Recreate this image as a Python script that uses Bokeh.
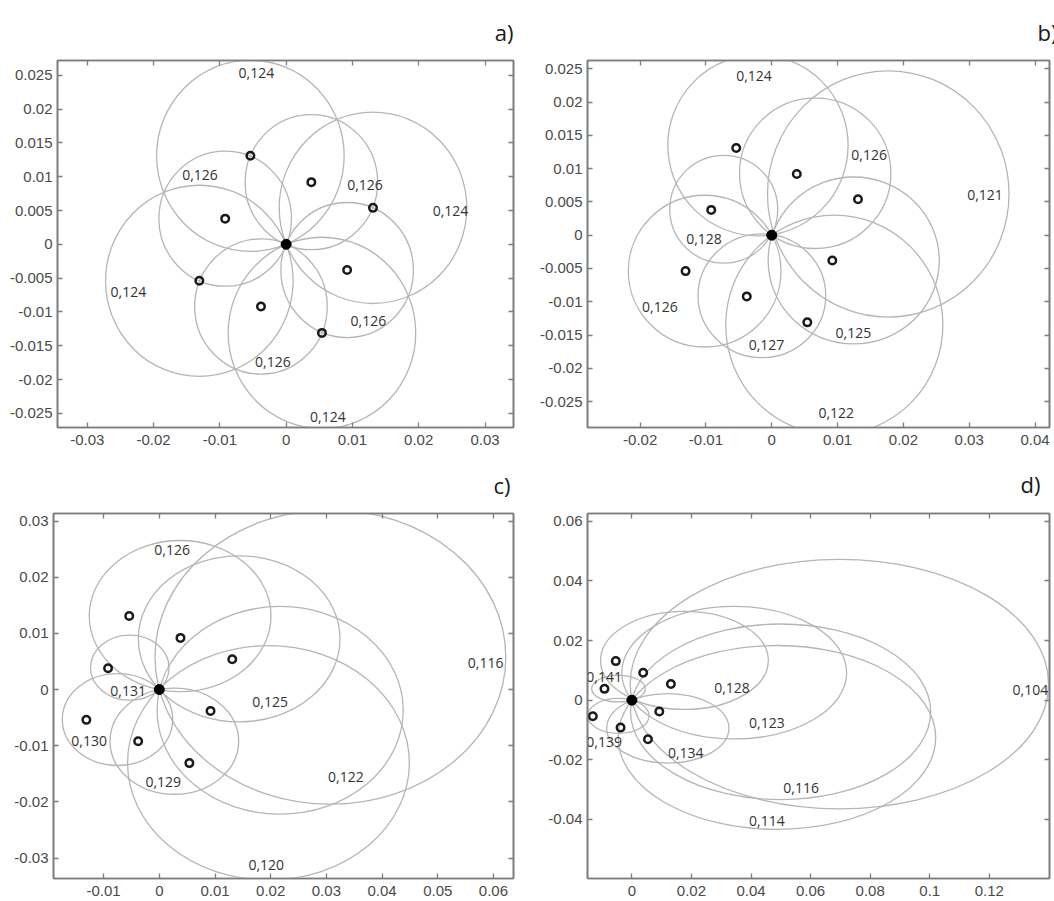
from bokeh.plotting import figure
from bokeh.models import FixedTicker, LinearAxis, Title, Range1d
from bokeh.layouts import column, row
from bokeh.embed import file_html
from bokeh.resources import INLINE
from bokeh.core.properties import value

# ---------------- data ----------------
# measurement points (same in every panel)
marker_x = [-0.0054, 0.0038, 0.0131, 0.0092, 0.0054, -0.0038, -0.0131, -0.0092]
marker_y = [0.0131, 0.0092, 0.0054, -0.0038, -0.0131, -0.0092, -0.0054, 0.0038]
origin_x = [0.0]
origin_y = [0.0]

# panel a) circles
a_cx = [-0.0054, 0.0038, 0.0131, 0.0092, 0.0054, -0.0038, -0.0131, -0.0092]
a_cy = [0.0131, 0.0092, 0.0054, -0.0038, -0.0131, -0.0092, -0.0054, 0.0038]
a_w = [0.0283, 0.0200, 0.0283, 0.0200, 0.0283, 0.0200, 0.0283, 0.0200]
a_h = [0.0283, 0.0200, 0.0283, 0.0200, 0.0283, 0.0200, 0.0283, 0.0200]
a_lx = [-0.0045, 0.0119, 0.0248, 0.0124, 0.0063, -0.0020, -0.0238, -0.0130]
a_ly = [0.0253, 0.0088, 0.0049, -0.0113, -0.0255, -0.0174, -0.0070, 0.0103]
a_lt = ["0,124", "0,126", "0,124", "0,126", "0,124", "0,126", "0,124", "0,126"]
a_xticks = [-0.03, -0.02, -0.01, 0, 0.01, 0.02, 0.03]
a_xlabels = ["-0.03", "-0.02", "-0.01", "0", "0.01", "0.02", "0.03"]
a_yticks = [-0.025, -0.02, -0.015, -0.01, -0.005, 0, 0.005, 0.01, 0.015, 0.02, 0.025]
a_ylabels = ["-0.025", "-0.02", "-0.015", "-0.01", "-0.005", "0", "0.005", "0.01", "0.015", "0.02", "0.025"]
a_xrange = (-0.0345, 0.0343)
a_yrange = (-0.0271, 0.0272)

# panel b) circles
b_cx = [-0.0021, 0.0066, 0.0177, 0.01245, 0.0095, -0.0015, -0.0102, -0.0073]
b_cy = [0.0135, 0.0093, 0.0062, -0.0038, -0.0135, -0.0091, -0.0054, 0.0039]
b_w = [0.0274, 0.0230, 0.0367, 0.0260, 0.0330, 0.0194, 0.0232, 0.0164]
b_h = [0.0272, 0.0226, 0.0370, 0.0251, 0.0330, 0.0186, 0.0228, 0.0162]
b_lx = [-0.0027, 0.0148, 0.0324, 0.0124, 0.0098, -0.0008, -0.0170, -0.0103]
b_ly = [0.0239, 0.0120, 0.0060, -0.01475, -0.02675, -0.0165, -0.01075, -0.0005]
b_lt = ["0,124", "0,126", "0,121", "0,125", "0,122", "0,127", "0,126", "0,128"]
b_xticks = [-0.02, -0.01, 0, 0.01, 0.02, 0.03, 0.04]
b_xlabels = ["-0.02", "-0.01", "0", "0.01", "0.02", "0.03", "0.04"]
b_yticks = [-0.025, -0.02, -0.015, -0.01, -0.005, 0, 0.005, 0.01, 0.015, 0.02, 0.025]
b_ylabels = ["-0.025", "-0.02", "-0.015", "-0.01", "-0.005", "0", "0.005", "0.01", "0.015", "0.02", "0.025"]
b_xrange = (-0.0280, 0.0422)
b_yrange = (-0.0289, 0.02625)

# panel c) ellipses
c_cx = [0.00374, 0.01434, 0.03072, 0.0217, 0.0196, 0.0027, -0.00751, -0.0053]
c_cy = [0.01309, 0.00903, 0.00579, -0.0037, -0.01306, -0.0092, -0.00535, 0.0039]
c_w = [0.03264, 0.03622, 0.0630, 0.0442, 0.0506, 0.0231, 0.01982, 0.01408]
c_h = [0.0269, 0.02958, 0.0524, 0.0370, 0.04176, 0.0189, 0.01636, 0.0116]
c_lx = [0.0023, 0.0199, 0.0586, 0.0335, 0.0192, 0.0007, -0.0126, -0.0056]
c_ly = [0.0249, -0.0023, 0.0048, -0.0156, -0.0313, -0.0164, -0.0092, -0.0002]
c_lt = ["0,126", "0,125", "0,116", "0,122", "0,120", "0,129", "0,130", "0,131"]
c_xticks = [-0.01, 0, 0.01, 0.02, 0.03, 0.04, 0.05, 0.06]
c_xlabels = ["-0.01", "0", "0.01", "0.02", "0.03", "0.04", "0.05", "0.06"]
c_yticks = [-0.03, -0.02, -0.01, 0, 0.01, 0.02, 0.03]
c_ylabels = ["-0.03", "-0.02", "-0.01", "0", "0.01", "0.02", "0.03"]
c_xrange = (-0.0190, 0.0636)
c_yrange = (-0.03365, 0.03135)

# panel d) ellipses
d_cx = [0.01764, 0.03435, 0.04993, 0.0487, 0.06966, 0.01206, -0.0045, -0.0045]
d_cy = [0.01333, 0.00922, -0.00389, -0.0125, 0.00539, -0.00944, 0.00387, -0.00526]
d_w = [0.05632, 0.0755, 0.10076, 0.1066, 0.14048, 0.04104, 0.0180, 0.0206]
d_h = [0.03288, 0.04444, 0.05888, 0.06166, 0.08366, 0.02334, 0.00894, 0.0117]
d_lx = [0.0336, 0.0453, 0.0568, 0.0453, 0.1338, 0.0181, -0.0093, -0.0093]
d_ly = [0.0041, -0.0078, -0.0294, -0.0406, 0.0033, -0.0178, 0.0078, -0.0141]
d_lt = ["0,128", "0,123", "0,116", "0,114", "0,104", "0,134", "0,141", "0,139"]
d_xticks = [0, 0.02, 0.04, 0.06, 0.08, 0.1, 0.12]
d_xlabels = ["0", "0.02", "0.04", "0.06", "0.08", "0.1", "0.12"]
d_yticks = [-0.04, -0.02, 0, 0.02, 0.04, 0.06]
d_ylabels = ["-0.04", "-0.02", "0", "0.02", "0.04", "0.06"]
d_xrange = (-0.0149, 0.1402)
d_yrange = (-0.0598, 0.0626)

panel_tags = ["a)", "b)", "c)", "d)"]

# ---------------- styling ----------------
FRAME = "#7d7d7d"
TICKLBL = "#4a4a4a"
CURVE = "#b5b5b5"


def style_axis(ax, ticks, labels, show, standoff):
    ax.ticker = FixedTicker(ticks=ticks)
    ax.major_tick_in = 5
    ax.major_tick_out = 0
    ax.minor_tick_line_color = None
    ax.axis_line_color = FRAME
    ax.axis_line_width = 1.6
    ax.major_tick_line_color = FRAME
    ax.major_tick_line_width = 1.3
    if show:
        ax.major_label_overrides = dict(zip(ticks, labels))
        ax.major_label_text_font = "Liberation Sans"
        ax.major_label_text_font_size = "15px"
        ax.major_label_text_color = TICKLBL
        ax.major_label_standoff = standoff
    else:
        ax.major_label_text_color = None
        ax.major_label_text_font_size = "1px"
        ax.major_label_standoff = 0


def make_panel(w, h, borders, xr, yr, xt, xl, yt, yl, cx, cy, ew, eh, lx, ly, lt,
               tag, tag_offset, tag_standoff):
    bl, br, bt, bb = borders
    p = figure(width=w, height=h, x_range=Range1d(*xr), y_range=Range1d(*yr),
               output_backend="svg", toolbar_location=None,
               min_border_left=bl, min_border_right=br,
               min_border_top=bt, min_border_bottom=bb)
    p.grid.visible = False
    p.outline_line_color = FRAME
    p.outline_line_width = 1.6
    p.background_fill_color = "white"
    p.border_fill_color = "white"

    style_axis(p.xaxis[0], xt, xl, True, 7)
    style_axis(p.yaxis[0], yt, yl, True, 5)
    top = LinearAxis()
    style_axis(top, xt, xl, False, 0)
    p.add_layout(top, "above")
    right = LinearAxis()
    style_axis(right, yt, yl, False, 0)
    p.add_layout(right, "right")

    p.add_layout(Title(text=tag, align="right", offset=tag_offset,
                       standoff=tag_standoff, text_font="Open Sans",
                       text_font_size="22px", text_font_style="normal",
                       text_color="#1a1a1a"), "above")

    p.ellipse(x=cx, y=cy, width=ew, height=eh, fill_color=None,
              line_color=CURVE, line_width=1.3)
    p.text(x=lx, y=ly, text=lt, text_align="center", text_baseline="middle",
           text_font=value("Open Sans"), text_font_size="14px", text_color="#333333")
    p.scatter(x=marker_x, y=marker_y, marker="circle", size=7.5, fill_color=None,
              line_color="#1a1a1a", line_width=2.5)
    p.scatter(x=origin_x, y=origin_y, marker="circle", size=10, fill_color="black",
              line_color="black")
    return p


pa = make_panel(527, 452, (57, 14, 60, 25), a_xrange, a_yrange, a_xticks, a_xlabels,
                a_yticks, a_ylabels, a_cx, a_cy, a_w, a_h, a_lx, a_ly, a_lt,
                panel_tags[0], 0, 28)
pb = make_panel(527, 452, (60, 5, 60, 24), b_xrange, b_yrange, b_xticks, b_xlabels,
                b_yticks, b_ylabels, b_cx, b_cy, b_w, b_h, b_lx, b_ly, b_lt,
                panel_tags[1], -8, 28)
pc = make_panel(527, 449, (53, 14, 58, 23), c_xrange, c_yrange, c_xticks, c_xlabels,
                c_yticks, c_ylabels, c_cx, c_cy, c_w, c_h, c_lx, c_ly, c_lt,
                panel_tags[2], 3, 27)
pd_ = make_panel(527, 449, (60, 5, 60, 22), d_xrange, d_yrange, d_xticks, d_xlabels,
                 d_yticks, d_ylabels, d_cx, d_cy, d_w, d_h, d_lx, d_ly, d_lt,
                 panel_tags[3], 9, 29)

layout = column(row(pa, pb, spacing=0), row(pc, pd_, spacing=0), spacing=0)

with open("out.html", "w") as f:
    f.write(file_html(layout, INLINE))
